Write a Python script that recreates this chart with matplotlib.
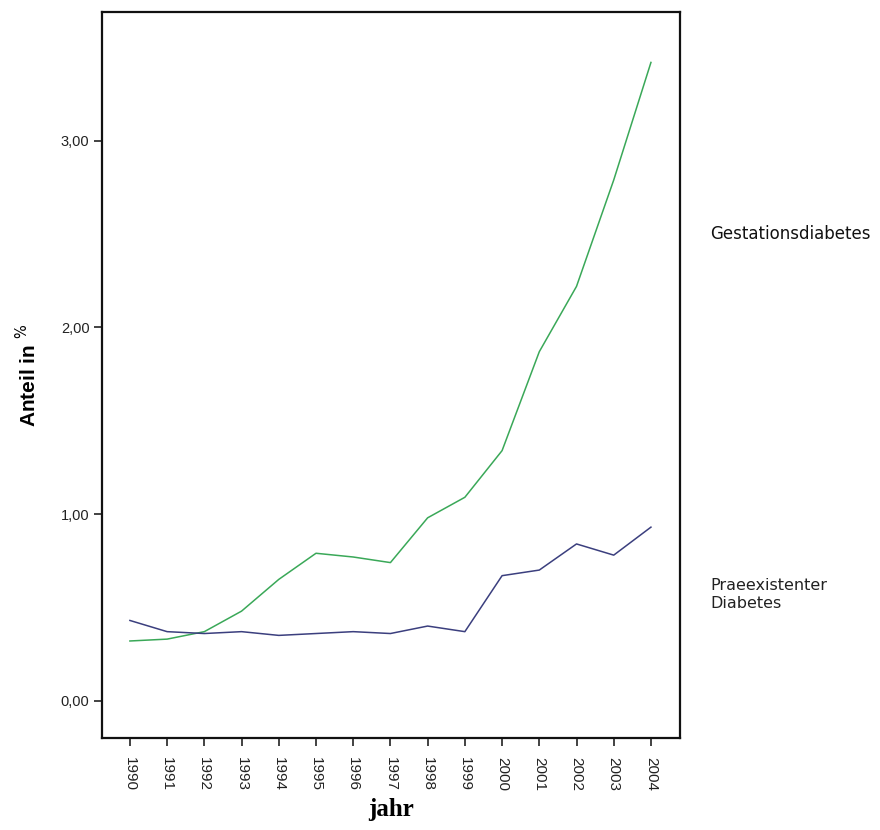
import matplotlib.pyplot as plt
import matplotlib.transforms as mtransforms

# Data
jahr = [1990, 1991, 1992, 1993, 1994, 1995, 1996, 1997,
        1998, 1999, 2000, 2001, 2002, 2003, 2004]
gestation = [0.32, 0.33, 0.37, 0.48, 0.65, 0.79, 0.77, 0.74,
             0.98, 1.09, 1.34, 1.87, 2.22, 2.79, 3.42]
praeexist = [0.43, 0.37, 0.36, 0.37, 0.35, 0.36, 0.37, 0.36,
             0.40, 0.37, 0.67, 0.70, 0.84, 0.78, 0.93]
y_ticks = [0, 1, 2, 3]
y_ticklabels = ["0,00", "1,00", "2,00", "3,00"]

fig = plt.figure(figsize=(8.8, 8.3), dpi=100)
fig.patch.set_facecolor("white")
ax = fig.add_axes([0.1159, 0.1108, 0.6568, 0.8747])

ax.plot(jahr, gestation, color="#3aa858", linewidth=1.1)
ax.plot(jahr, praeexist, color="#3b3f7e", linewidth=1.1)

ax.set_xlim(1989.25, 2004.78)
ax.set_ylim(-0.20, 3.69)

ax.set_xticks(jahr)
ax.set_xticklabels([str(j) for j in jahr], rotation=270, fontsize=11,
                   family="Liberation Sans", color="#222222")
ax.set_yticks(y_ticks)
ax.set_yticklabels(y_ticklabels, fontsize=10.5, family="Liberation Sans",
                   color="#222222")
ax.tick_params(axis="both", direction="out", length=6, width=1.2,
               color="#222222")
ax.tick_params(axis="x", pad=8)
ax.tick_params(axis="y", pad=3)

for side in ["left", "right", "top", "bottom"]:
    ax.spines[side].set_linewidth(1.6)
    ax.spines[side].set_color("#111111")

ax.set_ylabel(r"Anteil in $^{\%}$", fontsize=15, fontweight="bold",
              family="Liberation Sans", labelpad=15)
ax.set_xlabel("jahr", fontsize=18, fontweight="bold",
              family="Liberation Serif", labelpad=5)

# Series labels on the right
trans = mtransforms.blended_transform_factory(ax.transAxes, ax.transData)
ax.text(1.052, 2.50, "Gestationsdiabetes", transform=trans, fontsize=12,
        family="DejaVu Sans", color="#111111", va="center", ha="left",
        clip_on=False)
ax.text(1.052, 0.57, "Praeexistenter\nDiabetes", transform=trans, fontsize=11.5,
        family="DejaVu Sans", color="#222222", va="center", ha="left",
        linespacing=1.3, clip_on=False)

plt.savefig("out.png", dpi=100)
plt.close()
